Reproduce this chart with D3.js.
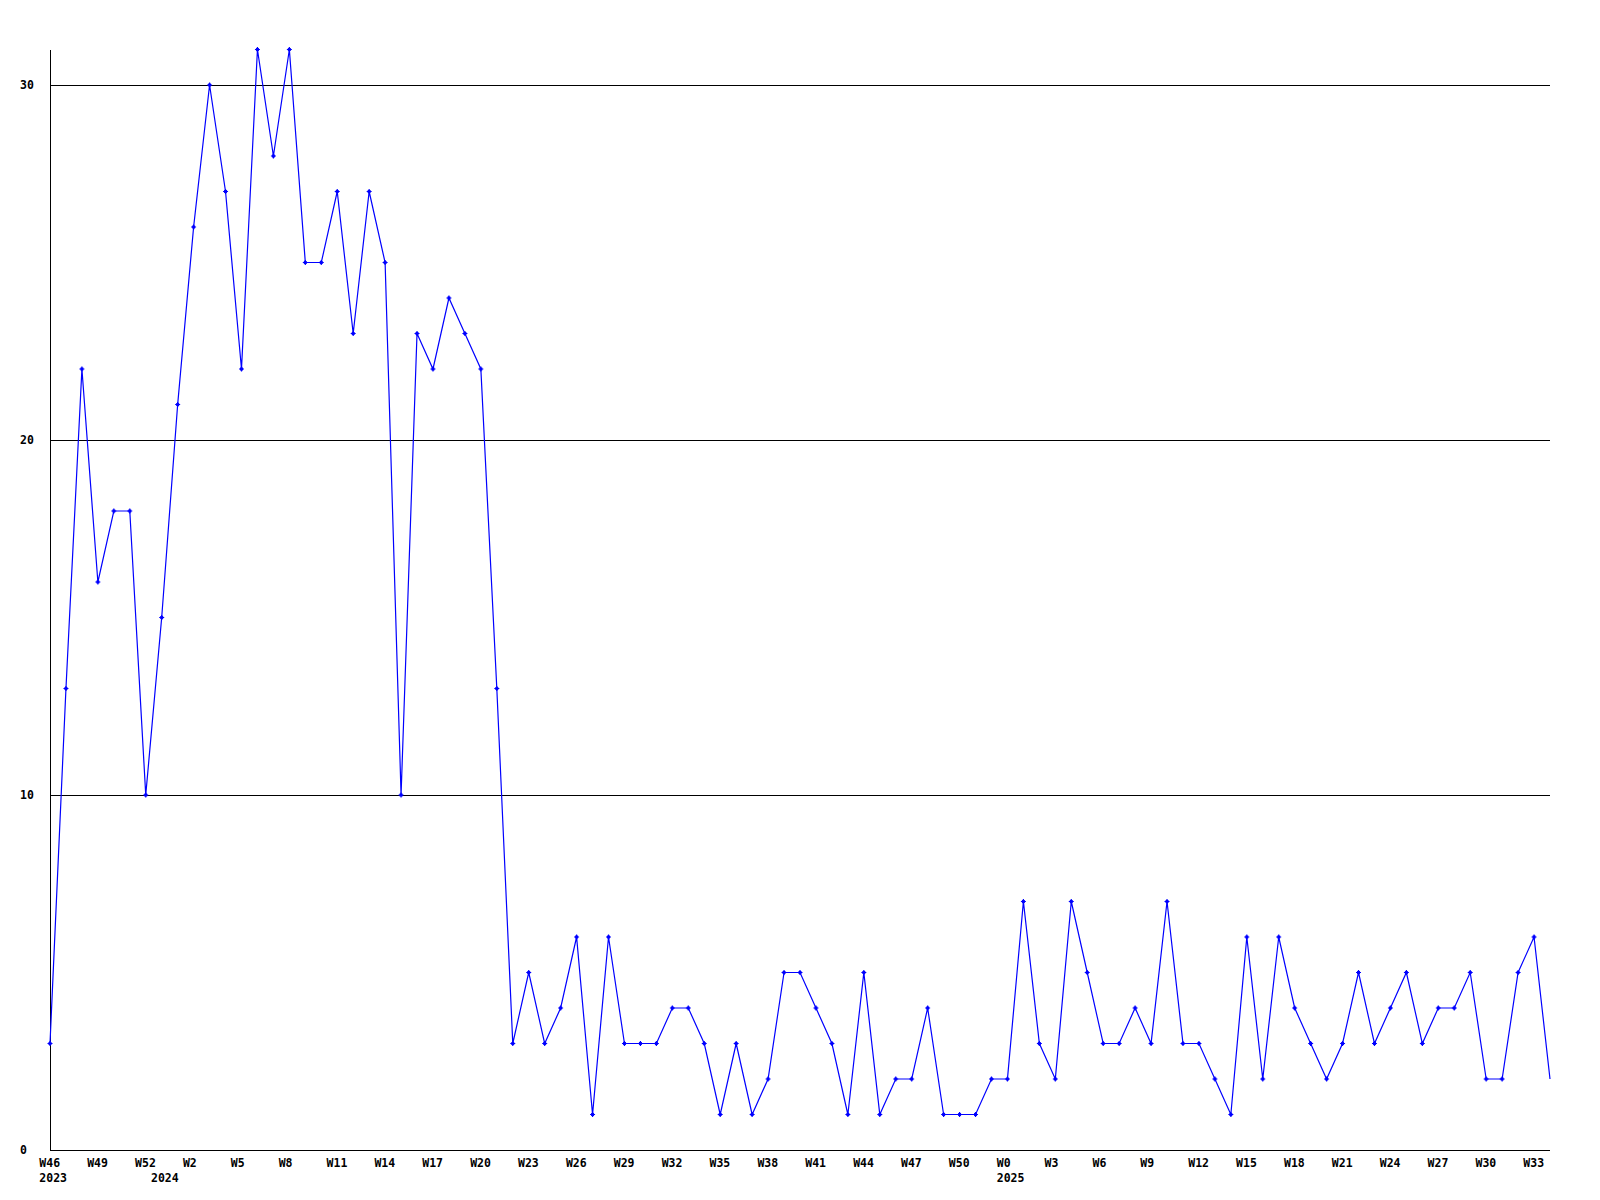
<!DOCTYPE html>
<html>
<head>
<meta charset="utf-8">
<script src="https://cdn.jsdelivr.net/npm/d3@7"></script>
<style>
  html, body { margin: 0; padding: 0; background: #fff; }
  svg { display: block; }
  text { font-family: "DejaVu Sans Mono", "Liberation Mono", monospace; font-weight: bold; font-size: 11.5px; fill: #000; }
</style>
</head>
<body>
<svg id="chart" width="1600" height="1200"></svg>
<script>
// ---- data ----
const values = [3, 13, 22, 16, 18, 18, 10, 15, 21, 26, 30, 27, 22, 31, 28, 31, 25, 25, 27, 23,
  27, 25, 10, 23, 22, 24, 23, 22, 13, 3, 5, 3, 4, 6, 1, 6, 3, 3, 3, 4,
  4, 3, 1, 3, 1, 2, 5, 5, 4, 3, 1, 5, 1, 2, 2, 4, 1, 1, 1, 2,
  2, 7, 3, 2, 7, 5, 3, 3, 4, 3, 7, 3, 3, 2, 1, 6, 2, 6, 4, 3,
  2, 3, 5, 3, 4, 5, 3, 4, 4, 5, 2, 2, 5, 6, 2];
const weekTicks = ["W46", "W49", "W52", "W2", "W5", "W8", "W11", "W14", "W17", "W20", "W23",
  "W26", "W29", "W32", "W35", "W38", "W41", "W44", "W47", "W50", "W0", "W3", "W6", "W9",
  "W12", "W15", "W18", "W21", "W24", "W27", "W30", "W33"];
const tickStep = 3;
const yearLabels = ["2023", "2024", "2025"];
const yearStartIndex = [0, 7, 60];
const yTicks = [0, 10, 20, 30];
const yMax = 31;

// ---- layout ----
const plotLeft = 50, plotRight = 1550, plotTop = 49.5, plotBottom = 1150;
const svg = d3.select("#chart");

const x = d3.scaleLinear().domain([0, values.length - 1]).range([plotLeft, plotRight]);
const y = d3.scaleLinear().domain([0, yMax]).range([plotBottom, plotTop]);

// gridlines
svg.append("g").selectAll("line").data(yTicks.filter(d => d > 0)).join("line")
  .attr("x1", plotLeft).attr("x2", plotRight)
  .attr("y1", d => Math.round(y(d)) + 0.5).attr("y2", d => Math.round(y(d)) + 0.5)
  .attr("stroke", "#000").attr("stroke-width", 1).attr("shape-rendering", "crispEdges");

// axes
svg.append("line").attr("x1", plotLeft + 0.5).attr("x2", plotLeft + 0.5)
  .attr("y1", plotTop).attr("y2", plotBottom)
  .attr("stroke", "#000").attr("shape-rendering", "crispEdges");
svg.append("line").attr("x1", plotLeft).attr("x2", plotRight)
  .attr("y1", plotBottom + 0.5).attr("y2", plotBottom + 0.5)
  .attr("stroke", "#000").attr("shape-rendering", "crispEdges");

// y labels
svg.append("g").selectAll("text").data(yTicks).join("text")
  .attr("x", 20).attr("y", d => y(d) + 4)
  .text(d => d);

// x week labels
svg.append("g").selectAll("text").data(weekTicks).join("text")
  .attr("x", (d, i) => x(i * tickStep) - 10.7)
  .attr("y", 1166.5)
  .text(d => d);

// year labels
svg.append("g").selectAll("text").data(yearLabels).join("text")
  .attr("x", (d, i) => x(yearStartIndex[i]) - 10.7)
  .attr("y", 1181.5)
  .text(d => d);

// line
const line = d3.line().x((d, i) => x(i)).y(d => y(d));
svg.append("path").datum(values)
  .attr("d", line)
  .attr("fill", "none").attr("stroke", "#0000ff").attr("stroke-width", 1.2);

// markers (no marker on the last point)
const marker = "M-2.5,-0.6h5v1.2h-5z M-0.6,-2.5h1.2v5h-1.2z M-1.5,-1.5h3v3h-3z";
svg.append("g").selectAll("path").data(values.slice(0, values.length - 1)).join("path")
  .attr("transform", (d, i) => `translate(${x(i)},${y(d)})`)
  .attr("d", marker)
  .attr("fill", "#0000ff");
</script>
</body>
</html>
